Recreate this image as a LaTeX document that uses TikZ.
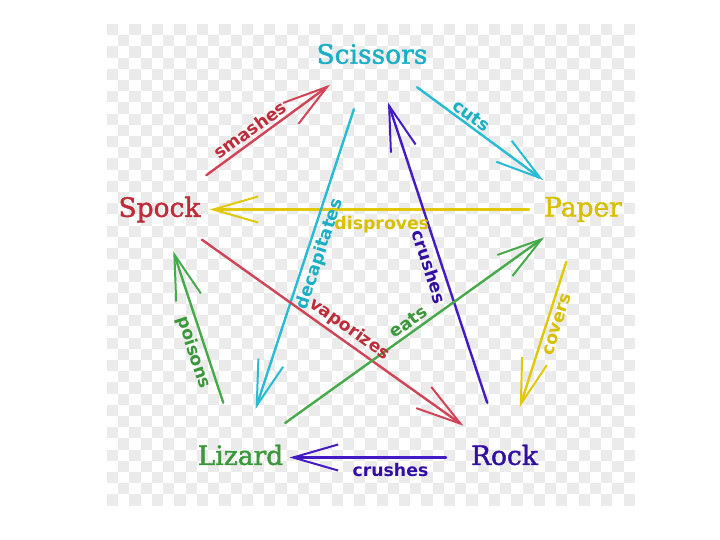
\documentclass[tikz,border=0pt]{standalone}
\usepackage{fontspec}
\setmainfont{DejaVu Serif}
\newfontfamily\vertfont{DejaVu Serif}[FakeBold=1.6]
\newfontfamily\lblfont{DejaVu Sans}
\usetikzlibrary{arrows.meta}
\definecolor{chk}{HTML}{EBEBEB}
\definecolor{cyanT}{HTML}{19AFC4}
\definecolor{redT}{HTML}{BE2C3A}
\definecolor{yelT}{HTML}{D8C000}
\definecolor{grnT}{HTML}{3A983A}
\definecolor{purT}{HTML}{320EA4}
\definecolor{cyanL}{HTML}{26BCD4}
\definecolor{redL}{HTML}{D04456}
\definecolor{yelL}{HTML}{E2C80A}
\definecolor{grnL}{HTML}{46AA4A}
\definecolor{purL}{HTML}{441AC4}
\begin{document}
\begin{tikzpicture}[x=1pt,y=-1pt,
  vert/.style={font=\vertfont\fontsize{26.5}{30}\selectfont, inner sep=0pt},
  rel/.style={line width=2.4pt, line cap=round, -{Straight Barb[length=45pt,width=26pt,line width=2pt]}},
  lbl/.style={font=\lblfont\bfseries\fontsize{17.3}{20}\selectfont, inner sep=1.5pt}]
\useasboundingbox (0,0) rectangle (720,540);
\fill[white] (0,0) rectangle (720,540);
% transparency checkerboard
\foreach \i in {0,2,...,46} \foreach \j in {0,2,...,42}
  \fill[chk] ({107+\i*11.23},{24+\j*11.2}) rectangle ++(11.23,11.2);
\foreach \i in {1,3,...,45} \foreach \j in {1,3,...,41}
  \fill[chk] ({107+\i*11.23},{24+\j*11.2}) rectangle ++(11.23,11.2);
% vertices
\node[vert, text=cyanT] (scissors) at (372,54) {Scissors};
\node[vert, text=redT] (spock) at (159.5,209.5) {Spock};
\node[vert, text=yelT] (paper) at (583,209.5) {Paper};
\node[vert, text=grnT] (lizard) at (240.5,455) {Lizard};
\node[vert, text=purT] (rock) at (504.5,455) {Rock};
% connectors
\draw[rel, redL, shorten <=58pt, shorten >=52pt] (spock.center) -- (scissors.center);
\draw[rel, cyanL, shorten <=56pt, shorten >=49.5pt] (scissors.center) -- (paper.center);
\draw[rel, yelL, shorten <=54pt, shorten >=50pt] (paper.center) -- (spock.center);
\draw[rel, yelL, shorten <=55pt, shorten >=50pt] (paper.center) -- (rock.center);
\draw[rel, purL, shorten <=58.5pt, shorten >=49pt] ([yshift=-2.5pt]rock.center) -- ([yshift=-2.5pt]lizard.center);
\draw[rel, grnL, shorten <=55pt, shorten >=44pt] (lizard.center) -- (spock.center);
\draw[rel, cyanL, shorten <=58pt, shorten >=48.5pt] (scissors.center) -- (lizard.center);
\draw[rel, purL, shorten <=55pt, shorten >=51pt] (rock.center) -- (scissors.center);
\draw[rel, redL, shorten <=52pt, shorten >=50.5pt] (spock.center) -- (rock.center);
\draw[rel, grnL, shorten <=55pt, shorten >=47.5pt] (lizard.center) -- (paper.center);
% labels
\path (spock.center) -- node[lbl, sloped, above=2.5pt, pos=0.456, text=redT] {smashes} (scissors.center);
\path (scissors.center) -- node[lbl, sloped, above=1.5pt, pos=0.446, text=cyanT] {cuts} (paper.center);
\path (paper.center) -- node[lbl, below=5pt, pos=0.475, text=yelT] {disproves} (spock.center);
\path (paper.center) -- node[lbl, sloped, below=4pt, pos=0.456, text=yelT] {covers} (rock.center);
\path ([yshift=-2.5pt]rock.center) -- node[lbl, below=4pt, pos=0.432, text=purT] {crushes} ([yshift=-2.5pt]lizard.center);
\path (lizard.center) -- node[lbl, sloped, below=2.5pt, pos=0.433, text=grnT] {poisons} (spock.center);
\path (scissors.center) -- node[lbl, sloped, below=3pt, pos=0.489, text=cyanT] {decapitates} (lizard.center);
\path (rock.center) -- node[lbl, sloped, below=4pt, pos=0.479, text=purT] {crushes} (scissors.center);
\path (spock.center) -- node[lbl, sloped, above=2.5pt, pos=0.53, text=redT] {vaporizes} (rock.center);
\path (lizard.center) -- node[lbl, sloped, above=2.5pt, pos=0.508, text=grnT] {eats} (paper.center);
\end{tikzpicture}
\end{document}
